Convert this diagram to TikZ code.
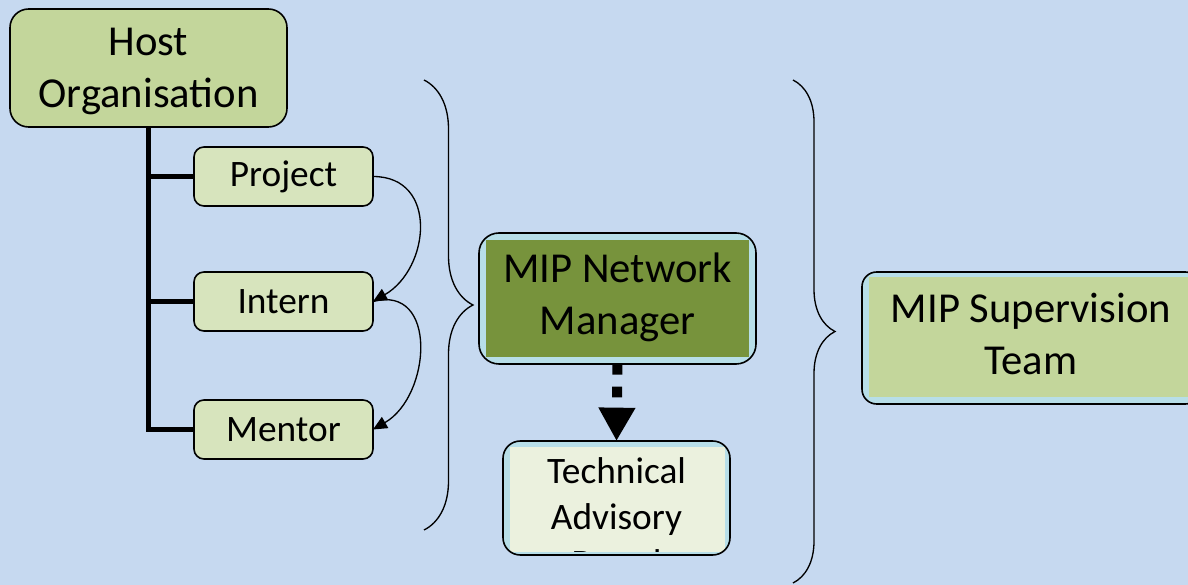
\documentclass[tikz,border=0pt]{standalone}
\usepackage{fontspec}
\setsansfont{Carlito}
\RequirePackage{xcolor}
\tikzset{every picture/.style={/utils/exec={\sffamily}}}
\usetikzlibrary{arrows.meta}
\usetikzlibrary{decorations.pathreplacing}

\definecolor{sky}{RGB}{198,217,240}
\definecolor{leaf}{RGB}{195,214,155}
\definecolor{paleleaf}{RGB}{215,228,189}
\definecolor{mgrgreen}{RGB}{119,147,60}
\definecolor{cream}{RGB}{235,241,222}
\definecolor{aqua}{RGB}{183,222,232}

\tikzset{
  box/.style={draw, line width=1.2pt, align=center, inner sep=0pt, outer sep=0pt},
  bigbox/.style={box, rounded corners=14pt, font=\fontsize{32}{39}\selectfont},
  smallbox/.style={box, rounded corners=7.5pt, fill=paleleaf, minimum width=134.25pt,
    minimum height=44.25pt, font=\fontsize{28}{34.5}\selectfont},
  % inner colour patch: colour / left / top / right / bottom
  inset/.style n args={5}{path picture={
    \fill[#1, sharp corners] ([shift={(#2,-#3)}]path picture bounding box.north west)
      rectangle ([shift={(-#4,#5)}]path picture bounding box.south east);}},
  trunk/.style={line width=3.75pt},
  curvy/.style={line width=1pt, -{Triangle[width=9.5pt,length=10.5pt]}},
  curly/.style={line width=1pt, decorate},
  dasharrow/.style={line width=7.5pt, dash pattern=on 8pt off 9pt,
    -{Triangle[width=26pt,length=25pt]}}
}

\begin{document}
\begin{tikzpicture}[x=0.75pt, y=0.75pt]
  \useasboundingbox (0,0) rectangle (1188,585);
  \fill[sky] (0,0) rectangle (1188,585);

  % host side
  \node[bigbox, fill=leaf, minimum width=207.75pt, minimum height=88.5pt,
    text height=66pt, text depth=6pt] (host) at (148.5,517) {Host\\Organisation};
  \node[smallbox] (project) at (283.5,408.5) {Project};
  \node[smallbox] (intern) at (283.5,283.5) {Intern};
  \node[smallbox] (mentor) at (283.5,155.5) {Mentor};

  \draw[trunk] (host.south) |- (mentor.west);
  \draw[trunk] (host.south |- project.west) -- (project.west);
  \draw[trunk] (host.south |- intern.west) -- (intern.west);

  \draw[curvy] (project.east) to[out=0, in=30, looseness=1.35] (intern.east);
  \draw[curvy] (intern.east) to[out=15, in=30, looseness=1.35] (mentor.east);

  \coordinate (lefttop) at (424,505);
  \coordinate (leftbot) at (424,55);
  \draw[curly, decoration={brace, amplitude=36.75pt}] (lefttop) -- (leftbot);

  % network manager and advisory board
  \node[bigbox, rounded corners=15pt, fill=aqua, inset={mgrgreen}{5pt}{5pt}{5pt}{5pt},
    minimum width=207.75pt, minimum height=98.25pt,
    text height=60.75pt, text depth=6pt] (netmgr) at (617.5,286.5) {MIP Network\\Manager};

  \node[box, rounded corners=13pt, fill=aqua, inset={cream}{5pt}{4.5pt}{3.75pt}{2.25pt},
    minimum width=170.25pt, minimum height=85.5pt] (advisory) at (616.5,87) {};
  \begin{scope}
    \clip ([shift={(5pt,-4.5pt)}]advisory.north west) rectangle ([shift={(-3.75pt,2.25pt)}]advisory.south east);
    \node[font=\fontsize{28}{34.5}\selectfont, align=center, inner sep=0pt] (advtext) at (616.5,68) {Technical\\Advisory\\Board};
  \end{scope}

  \draw[dasharrow] (netmgr.south) -- (advisory.north);

  \coordinate (righttop) at (793,505);
  \coordinate (rightbot) at (793,2);
  \draw[curly, decoration={brace, amplitude=31.5pt}] (righttop) -- (rightbot);

  \node[bigbox, rounded corners=11pt, fill=aqua, inset={leaf}{5.5pt}{4pt}{0pt}{5pt},
    minimum width=253.5pt, minimum height=99pt,
    text height=61.5pt, text depth=6pt] (supervision) at (1031,247) {MIP Supervision\\Team};

\end{tikzpicture}
\end{document}
